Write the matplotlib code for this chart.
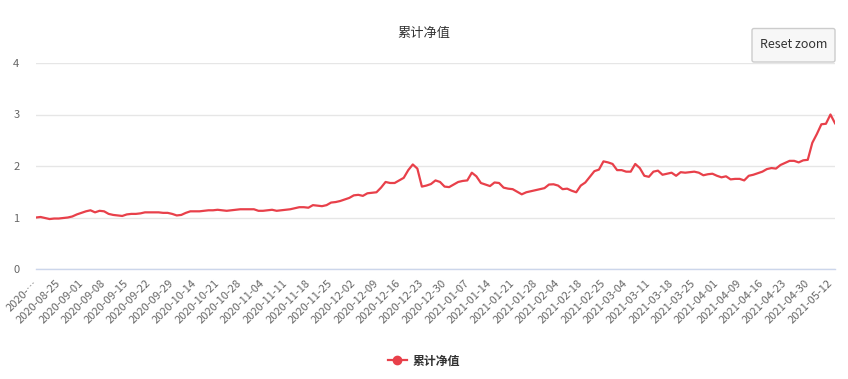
import matplotlib
matplotlib.use('Agg')
import matplotlib.pyplot as plt
from matplotlib.patches import FancyBboxPatch
from matplotlib.lines import Line2D

plt.rcParams['font.family'] = ['Noto Sans CJK SC', 'DejaVu Sans']

title = '累计净值'
series_name = '累计净值'

tick_labels = [
    '2020-…', '2020-08-25', '2020-09-01', '2020-09-08', '2020-09-15', '2020-09-22',
    '2020-09-29', '2020-10-14', '2020-10-21', '2020-10-28', '2020-11-04', '2020-11-11',
    '2020-11-18', '2020-11-25', '2020-12-02', '2020-12-09', '2020-12-16', '2020-12-23',
    '2020-12-30', '2021-01-07', '2021-01-14', '2021-01-21', '2021-01-28', '2021-02-04',
    '2021-02-18', '2021-02-25', '2021-03-04', '2021-03-11', '2021-03-18', '2021-03-25',
    '2021-04-01', '2021-04-09', '2021-04-16', '2021-04-23', '2021-04-30', '2021-05-12',
]

values = [
    1.00, 1.01, 0.99, 0.97, 0.98, 0.98, 0.99, 1.00, 1.02, 1.06,
    1.09, 1.12, 1.14, 1.10, 1.13, 1.12, 1.07, 1.05, 1.04, 1.03,
    1.06, 1.07, 1.07, 1.08, 1.10, 1.10, 1.10, 1.10, 1.09, 1.09,
    1.07, 1.04, 1.05, 1.09, 1.12, 1.12, 1.12, 1.13, 1.14, 1.14,
    1.15, 1.14, 1.13, 1.14, 1.15, 1.16, 1.16, 1.16, 1.16, 1.13,
    1.13, 1.14, 1.15, 1.13, 1.14, 1.15, 1.16, 1.18, 1.20, 1.20,
    1.19, 1.24, 1.23, 1.22, 1.24, 1.29, 1.30, 1.32, 1.35, 1.38,
    1.43, 1.44, 1.42, 1.47, 1.48, 1.49, 1.58, 1.69, 1.67, 1.67,
    1.72, 1.77, 1.92, 2.03, 1.95, 1.60, 1.62, 1.65, 1.72, 1.69,
    1.60, 1.59, 1.64, 1.69, 1.71, 1.72, 1.87, 1.80, 1.67, 1.64,
    1.61, 1.68, 1.67, 1.58, 1.56, 1.55, 1.50, 1.45, 1.49, 1.51,
    1.53, 1.55, 1.57, 1.64, 1.645, 1.62, 1.55, 1.56, 1.52, 1.49,
    1.62, 1.68, 1.79, 1.90, 1.93, 2.09, 2.07, 2.04, 1.92, 1.92,
    1.89, 1.89, 2.04, 1.96, 1.81, 1.79, 1.89, 1.91, 1.83, 1.85,
    1.87, 1.81, 1.88, 1.87, 1.88, 1.89, 1.87, 1.82, 1.84, 1.85,
    1.81, 1.78, 1.80, 1.74, 1.75, 1.75, 1.72, 1.81, 1.83, 1.86,
    1.89, 1.94, 1.96, 1.95, 2.02, 2.06, 2.10, 2.10, 2.07, 2.11,
    2.12, 2.45, 2.62, 2.81, 2.82, 3.00, 2.83,
]

y_ticks = [0, 1, 2, 3, 4]

W, H = 848, 379
fig = plt.figure(figsize=(W / 100, H / 100), dpi=100)
fig.patch.set_facecolor('white')

ax = fig.add_axes([36 / W, 1 - 269 / H, (835 - 36) / W, (269 - 63) / H])
xs = list(range(len(values)))
ax.plot(xs, values, color='#e8404a', lw=1.6, solid_joinstyle='round', zorder=3)
ax.set_xlim(0, len(values) - 1)
ax.set_ylim(0, 4)
ax.set_yticks(y_ticks)
ax.set_yticklabels([str(t) for t in y_ticks])
ax.grid(axis='y', color='#e6e6e6', lw=1)
ax.grid(axis='x', visible=False)
ax.set_axisbelow(True)
for s in ['top', 'right', 'left']:
    ax.spines[s].set_visible(False)
ax.spines['bottom'].set_color('#ccd6eb')
ax.spines['bottom'].set_linewidth(1)
ax.spines['bottom'].set_zorder(4)
ax.tick_params(axis='both', length=0)
ax.tick_params(axis='y', labelcolor='#666666', labelsize=8, pad=12)
tick_pos = list(range(0, len(values), 5))[:len(tick_labels)]
ax.set_xticks(tick_pos)
ax.set_xticklabels(tick_labels, rotation=45, ha='right', va='center',
                   rotation_mode='anchor', fontsize=8, color='#666666')
ax.tick_params(axis='x', pad=9)

# title
fig.text(424 / W, 1 - 33 / H, title, ha='center', va='center',
         fontsize=9.5, color='#333333')

# legend
handle = Line2D([], [], color='#e8404a', lw=1.6, marker='o', markersize=6)
fig.legend([handle], [series_name], loc='center', bbox_to_anchor=(424 / W, 1 - 361 / H),
           frameon=False, prop={'weight': 'bold', 'size': 8.6}, handlelength=1.6,
           handletextpad=0.5, labelcolor='#333333')

# reset zoom button (decoration, pixel coordinates)
ov = fig.add_axes([0, 0, 1, 1], zorder=10)
ov.set_xlim(0, W)
ov.set_ylim(H, 0)
ov.axis('off')
ov.patch.set_alpha(0)
btn = FancyBboxPatch((752, 28.5), 83, 33.5, boxstyle='round,pad=0,rounding_size=2',
                     facecolor='#f7f7f7', edgecolor='#cccccc', lw=1)
ov.add_patch(btn)
ov.text(793.5, 45, 'Reset zoom', ha='center', va='center', fontsize=9, color='#333333')

fig.savefig('out.png', dpi=100)
